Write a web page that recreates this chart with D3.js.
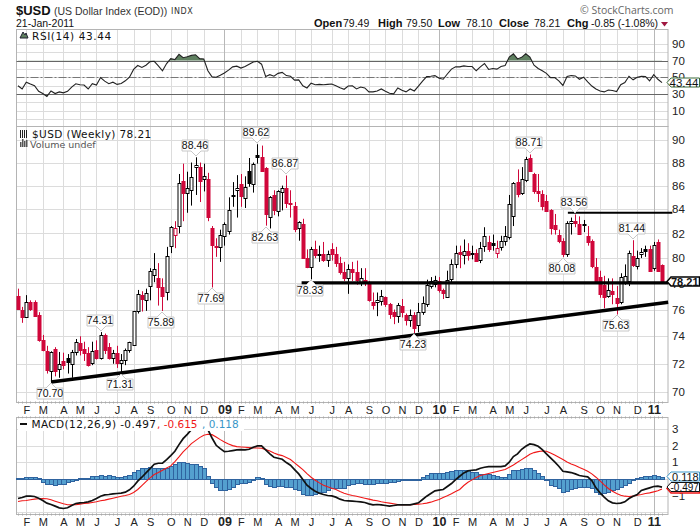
<!DOCTYPE html>
<html>
<head>
<meta charset="utf-8">
<script src="https://cdnjs.cloudflare.com/ajax/libs/d3/7.8.5/d3.min.js"></script>
<style>
  html, body { margin: 0; padding: 0; background: #fff; }
  svg { display: block; }
  text { font-family: "Liberation Sans", Arial, sans-serif; }
</style>
</head>
<body>
<div id="chart"></div>
<script>
// weekly bars, Jan 2008 - 21 Jan 2011
const open = [
  77,76,75.5,76.6,76.6,75.55,73.7,72.9,71.5,73.1,
  71.6,72.2,72.4,72,72.85,73.5,73.1,72.8,72,73,
  72.4,74.1,73.2,72.4,72.75,72.05,72.3,73,73.4,75.9,
  77.1,76.8,77.85,78.6,78.4,77.7,77.4,81,81.8,82.6,
  86.4,85.4,85.6,87.6,87.6,86.5,86.6,82.4,81,80.9,
  81.8,82.2,85.2,85.6,86.1,85,87.3,86.2,88.65,88.5,
  87.5,83.3,85.2,83.8,85.5,85.8,84.5,84.3,82.4,82.8,
  80,79.3,80.7,80.25,80.3,79.9,80.7,80.3,79.6,78.9,
  78.4,79.1,78.9,78,78.3,78.1,76.6,76.6,76.6,76.95,
  76.4,75.8,75.5,76.3,75.6,75.2,75.6,74.8,75.8,76.4,
  77.8,77.95,78.2,77.5,77,78.3,79.5,80.5,80.3,80.6,
  80.35,80.4,79.8,81,81.3,81.2,80.4,80.95,81.4,81.7,
  83.4,86.3,85.4,86.5,88.4,87,85.5,85.3,84.7,83.9,
  82.7,81.9,81.4,80.3,82.9,83.05,82.8,82.75,81.8,81.4,
  79.3,78.5,77.9,77,77.4,76.9,76.55,78.1,78.15,80.2,
  79.4,80.3,80.7,80.75,79.2,81.3,79.49
];
const high = [
  77.6,76.2,77.1,76.7,76.7,75.8,74.1,73.3,72.9,73.2,
  72.85,72.8,72.7,73,73.8,74,73.6,73.2,73.6,73.7,
  74.31,74.2,73.5,73,73.3,72.7,73.1,73.6,75.9,77.5,
  77.4,77.6,79.2,80.4,79.6,78.4,80.9,82.6,83,87,
  87.9,87.2,88,88.46,88,87.9,87.1,82.6,81.6,82.3,
  82.9,85,86.3,86.9,87,86.8,88.4,88,89.62,89.5,
  87.6,85.1,85.6,85.6,86,86.87,85.6,84.6,83,83.2,
  80.7,80.9,81.4,81,81.3,80.6,81.2,80.9,80.1,79.7,
  79.5,79.7,79.8,79.2,79.2,78.2,77.3,77.3,77.5,77,
  76.5,76,76.5,76.8,75.7,76,75.8,76.5,77,78.3,
  78.5,78.6,78.5,77.6,79,79.9,81,81,81.5,81.2,
  81,80.7,81.3,82.5,81.8,81.9,81.4,81.8,82.6,85.2,
  86.3,87.4,87.6,88.5,88.71,87.1,87,85.6,85.2,84,
  83.6,82.3,81.6,83,83.3,83.56,83.4,83.1,82.6,81.5,
  80,79,78.6,78.4,78.4,77.8,78.8,79.5,80.6,81.44,
  80.6,80.8,81,81,81.3,81.5,79.5
];
const low = [
  76,75,75.4,75.9,75.5,73.6,72.9,71.3,70.7,71.1,
  71,71.6,71.3,71,72.6,72.6,72.2,71.8,71.9,72.3,
  72.3,72.7,72.3,72,71.7,71.31,71.9,72.8,73.3,75.7,
  75.85,75.9,76.7,78.1,76.3,75.89,76.7,80.4,80.8,82,
  83,83.7,84.3,85.2,84.6,85.5,83,77.69,80.1,79.7,
  81,81.9,84.2,83.3,84.2,84.1,85.9,85.4,87.9,87.2,
  82.63,82.4,83.5,83.4,83.9,84.1,83.3,82.1,81.4,80,
  79.2,78.33,80,79.7,79.7,79.3,79.8,79.3,78.7,78.2,
  77.2,78.2,77.9,77.8,77.8,76.6,76,75.5,76.3,76.2,
  75.3,74.9,75,75.4,74.8,74.7,74.23,74.3,75.6,76.2,
  77.6,77.7,77.3,76.8,76.9,78,79.2,79.2,79.5,79.8,
  79.9,79.7,79.6,80.5,80.5,80.6,80,80.6,81,81.5,
  82.6,85,85.2,86.3,87.2,85.3,84.6,83.9,83.8,81.9,
  81.9,81.2,80.08,80.1,81.9,82.5,81.9,82.1,81,79.2,
  78,76.9,76.1,76.9,76.4,75.63,76.4,77.9,77.8,79.3,
  79.1,80,80.1,78.9,79,78.9,78.1
];
const close = [
  76,75.5,76.6,76.05,75.55,73.7,73,71.5,72.85,71.5,
  71.95,71.9,72.1,72.85,73.6,73,72.8,71.9,72.9,72.4,
  74.1,73,72.4,72.75,72,72.3,73,73.55,75.9,77.2,
  76.8,77.3,79,79.1,77.7,77,80.2,82.55,82.4,86.2,
  85.4,85.8,86.7,87.8,86.4,86.8,83.4,81,80.9,81.9,
  82.8,83.9,85.1,85.8,85.1,85.9,86.3,87.9,88.5,87.3,
  83.6,85,83.9,85.5,85.8,84.5,84.4,82.4,82.9,80,
  79.3,80.7,80.2,80.3,79.8,80.35,80.3,79.6,78.9,78.4,
  79.1,78.9,78.3,78.4,78.1,76.7,76.4,76.75,77,76.4,
  75.65,75.5,76.35,75.85,75.2,75.55,74.6,75.8,76.5,77.85,
  78.2,78.25,77.5,77.25,78.3,79.5,80.4,80.3,80.6,80.3,
  80.4,79.8,80.8,81.8,80.7,81,80.8,81.4,81.8,84.4,
  86.2,85.3,86.6,88.3,87.3,85.5,85.3,84.3,83.9,82.4,
  82.35,81.4,80.35,82.85,83.05,82.9,82,82.7,81.3,79.4,
  78.1,77.2,77,77.5,77.2,76.55,78.5,78.6,80.4,79.5,
  80,80.45,80.55,79,81.05,79,78.21
];
const rsi = [
  39.8,35.9,44.1,41.8,39.8,33.1,30.4,26.9,33.5,30.4,
  32.4,31.2,33.1,38.2,42.2,41,40.6,35.9,42.2,40.6,
  49.6,45.3,42.2,44.1,41.4,42.5,45.7,50,59.4,64.1,
  61.8,64.5,68.8,69.2,63.7,57.8,66.5,72.4,71.2,77.5,
  73.5,74.7,76.3,77.1,72.4,72,57.8,50.4,50,52.4,
  55.1,58.6,62.5,63.3,61,62.9,65.7,68.4,69.2,65.7,
  50.8,53.1,51.2,54.7,55.9,52,51.2,46.5,46.9,39.8,
  37.1,42.9,41,41.4,41,41.4,41.8,39.8,37.5,35.5,
  39.4,39.8,35.9,38.2,37.1,32.4,32.4,33.5,35.9,33.1,
  30.8,30,37.1,34.3,32.4,35.9,33.5,39.4,45.3,50.8,
  51.2,52,48.8,47.6,53.9,59.8,62.5,62.5,63.7,62.9,
  62.9,57.8,62.5,66.5,59.4,60.6,59.8,62.9,64.1,74.3,
  78.2,72,73.9,78.2,74.3,64.5,60.6,57.8,54.7,49.6,
  49.6,45.7,40.2,50.8,52,51.6,47.6,50,44.5,39.4,
  35.9,33.5,32.4,34.7,34,32.8,41,43.7,51.2,46.9,
  50,51.2,50.8,45.7,53.1,47.6,43.44
];
const macd = [
  -1.18,-1.12,-1.04,-1.04,-1.06,-1.16,-1.3,-1.46,-1.54,-1.64,
  -1.74,-1.78,-1.74,-1.6,-1.48,-1.44,-1.42,-1.38,-1.3,-1.18,
  -1.04,-.96,-.94,-.9,-.88,-.86,-.8,-.66,-.44,-.14,
  .1,.36,.62,.88,.94,.94,1.16,1.4,1.66,2.06,
  2.42,2.68,2.96,3.16,3.2,3.16,2.96,2.46,2.02,1.82,
  1.64,1.66,1.7,1.74,1.76,1.74,1.78,1.9,1.98,1.98,
  1.74,1.5,1.3,1.24,1.18,.98,.82,.56,.3,-.04,
  -.38,-.58,-.74,-.86,-.94,-1,-1.02,-1.1,-1.22,-1.3,
  -1.32,-1.34,-1.36,-1.38,-1.42,-1.5,-1.56,-1.54,-1.56,-1.6,
  -1.64,-1.6,-1.56,-1.56,-1.56,-1.56,-1.5,-1.44,-1.24,-1.04,
  -.88,-.72,-.68,-.64,-.46,-.28,-.04,.16,.36,.48,
  .52,.54,.64,.7,.74,.74,.74,.74,.78,1,
  1.34,1.5,1.78,1.96,2.1,2.06,1.96,1.76,1.5,1.26,
  1.02,.76,.46,.42,.38,.3,.2,.16,.12,-.1,
  -.54,-.84,-1.1,-1.32,-1.44,-1.48,-1.46,-1.38,-1.18,-1.04,
  -.94,-.7,-.62,-.54,-.46,-.44,-.497
];
const signal = [
  -1.36,-1.32,-1.3,-1.26,-1.22,-1.2,-1.18,-1.2,-1.26,-1.34,
  -1.42,-1.5,-1.56,-1.56,-1.56,-1.52,-1.48,-1.46,-1.42,-1.38,
  -1.32,-1.28,-1.22,-1.16,-1.1,-1.04,-1,-.94,-.82,-.64,
  -.4,-.16,.06,.26,.38,.52,.66,.78,1.04,1.32,
  1.62,1.86,2.12,2.3,2.48,2.62,2.68,2.66,2.52,2.36,
  2.22,2.1,2,1.94,1.92,1.9,1.88,1.86,1.86,1.84,
  1.76,1.68,1.56,1.46,1.4,1.28,1.16,.96,.76,.56,
  .32,.1,-.08,-.24,-.38,-.48,-.56,-.64,-.76,-.86,
  -.94,-1,-1.04,-1.1,-1.16,-1.22,-1.28,-1.32,-1.38,-1.42,
  -1.46,-1.5,-1.54,-1.56,-1.56,-1.56,-1.54,-1.52,-1.5,-1.46,
  -1.4,-1.32,-1.24,-1.12,-1.02,-.9,-.76,-.64,-.4,-.2,
  -.06,.08,.2,.26,.32,.38,.44,.5,.56,.7,
  .84,1,1.16,1.32,1.48,1.58,1.64,1.68,1.66,1.56,
  1.44,1.3,1.16,1.02,.9,.8,.68,.58,.46,.3,
  .1,-.12,-.36,-.58,-.74,-.88,-.98,-1.04,-1.06,-1.04,
  -.98,-.94,-.88,-.84,-.78,-.72,-.615
];
const hist = [
  .08,.08,.14,.14,.1,.06,-.16,-.3,-.32,-.34,
  -.32,-.28,-.2,-.12,-.02,.08,.08,.08,.16,.16,
  .26,.2,.22,.18,.12,.14,.2,.22,.4,.56,
  .64,.68,.74,.68,.64,.64,.68,.8,.92,1,
  1.02,.98,.92,.92,.76,.64,.2,-.24,-.5,-.64,
  -.66,-.62,-.5,-.3,-.22,-.22,-.2,-.06,.1,.04,
  -.32,-.4,-.48,-.44,-.44,-.48,-.5,-.6,-.68,-.92,
  -.98,-.96,-.9,-.82,-.8,-.64,-.52,-.52,-.52,-.52,
  -.38,-.32,-.24,-.26,-.28,-.3,-.28,-.26,-.24,-.22,
  -.16,-.16,-.12,-.08,-.04,-.02,.02,.02,.1,.26,
  .36,.38,.38,.36,.4,.48,.56,.56,.56,.56,
  .44,.4,.32,.3,.28,.22,.16,.12,.14,.32,
  .52,.54,.58,.68,.64,.56,.34,.2,0,-.34,
  -.44,-.56,-.76,-.7,-.58,-.52,-.5,-.5,-.48,-.56,
  -.8,-.88,-.84,-.76,-.66,-.58,-.5,-.36,-.24,-.04,
  .08,.12,.2,.16,.26,.2,.118
];

// month grid: bar number and label
const monthWeeks = [2,6,11,15,19,24,28,32,37,41,45,50,54,58,63,67,71,76,80,85,89,93,97,102,106,110,115,119,123,128,132,137,141,145,150,154];
const monthLabels = ["F","M","A","M","J","J","A","S","O","N","D","09","F","M","A","M","J","J","A","S","O","N","D","10","F","M","A","M","J","J","A","S","O","N","D","11"];

const rsiTicks = [90,70,50,30,10];
const rsiGrid = [90,80,70,60,50,40,30,20,10,0];
const priceTicks = [90,88,86,84,82,80,78,76,74,72,70];
const macdTicks = [3,2,1,-1];
const macdGrid = [3,2,1,0,-1,-2];

// high/low callouts
const calloutWeeks = [8,20,25,35,43,47,58,60,65,71,96,124,132,135,145,149];
const calloutSide = ["low","high","low","low","high","low","high","low","high","low","low","high","low","high","low","high"];

// lines drawn on the chart by hand
const supportLine = [{week: 8, price: 70.7}, {week: 157.5, price: 76.55}];
const flatLine = [{week: 68.7, price: 78.05}, {week: 157.5, price: 78.05}];
const topLine = [{week: 133.2, price: 83.7}, {week: 158.5, price: 83.7}];

const width = 700, height = 530;
const left = 16.5, right = 668;
const rsiBox = {top: 29.5, bottom: 126.5};
const priceBox = {top: 126.5, bottom: 402.5};
const macdBox = {top: 417.5, bottom: 514.5};

const RED = "#d0073a", GRID = "#dcdcdc", YEAR = "#b8b8b8", FRAME = "#b4b4b4";
const MONO = '"DejaVu Sans", sans-serif';

const svg = d3.select("#chart").append("svg")
  .attr("width", width).attr("height", height)
  .attr("viewBox", [0, 0, width, height]);

const x = d3.scaleLinear().domain([0, 156]).range([18, 662]);
const yRsi = d3.scaleLinear().domain([90, 10]).range([44, 110.5]);
const yPrice = d3.scaleLog().domain([70, 90]).range([392, 140]);
const yMacd = d3.scaleLinear().domain([3, -1]).range([429, 495.5]);

function drawPanel(box, y, gridVals, tickVals) {
  const g = svg.append("g");
  // horizontal grid
  g.selectAll(".h").data(gridVals).join("line")
    .attr("x1", left).attr("x2", right)
    .attr("y1", d => Math.round(y(d)) + 0.5).attr("y2", d => Math.round(y(d)) + 0.5)
    .attr("stroke", GRID);
  // month grid, year lines are darker
  g.selectAll(".v").data(monthWeeks).join("line")
    .attr("x1", d => Math.round(x(d)) + 0.5).attr("x2", d => Math.round(x(d)) + 0.5)
    .attr("y1", box.top).attr("y2", box.bottom)
    .attr("stroke", (d, i) => monthLabels[i].length > 1 ? YEAR : GRID);
  // frame
  g.append("rect").attr("x", left).attr("y", box.top)
    .attr("width", right - left).attr("height", box.bottom - box.top)
    .attr("fill", "none").attr("stroke", FRAME);
  // labels on the right
  const axis = d3.axisRight(y).tickValues(tickVals).tickSize(0).tickPadding(0).tickFormat(d3.format("d"));
  const ax = svg.append("g").attr("transform", `translate(${right + 4},0)`).call(axis);
  ax.select(".domain").remove();
  ax.selectAll("text").attr("font-size", 11.5).attr("fill", "#222")
    .attr("font-family", '"Liberation Sans", sans-serif');
}

function monthAxis(yPos) {
  const axis = d3.axisBottom(x).tickValues(monthWeeks).tickSize(0).tickPadding(0)
    .tickFormat((d, i) => monthLabels[i]);
  const ax = svg.append("g").attr("transform", `translate(0,${yPos})`).call(axis);
  ax.select(".domain").remove();
  ax.selectAll("text")
    .attr("dy", "0.35em").attr("y", 0)
    .attr("font-size", (d, i) => monthLabels[i].length > 1 ? 12.5 : 11)
    .attr("font-weight", (d, i) => monthLabels[i].length > 1 ? "bold" : "normal")
    .attr("font-family", (d, i) => monthLabels[i] === "09" ? '"Liberation Serif", serif' : '"Liberation Sans", sans-serif')
    .attr("fill", "#222");
}

// ---- RSI ----
drawPanel(rsiBox, yRsi, rsiGrid, rsiTicks);

const rsiPts = rsi.map((v, i) => [i, v]);
const defs = svg.append("defs");
defs.append("clipPath").attr("id", "above70").append("rect")
  .attr("x", left).attr("y", rsiBox.top).attr("width", right - left).attr("height", yRsi(70) - rsiBox.top);
defs.append("clipPath").attr("id", "below30").append("rect")
  .attr("x", left).attr("y", yRsi(30)).attr("width", right - left).attr("height", rsiBox.bottom - yRsi(30));

svg.append("path").datum(rsiPts).attr("clip-path", "url(#above70)").attr("fill", "#5f8060")
  .attr("d", d3.area().x(d => x(d[0])).y0(yRsi(70)).y1(d => yRsi(d[1])));
svg.append("path").datum(rsiPts).attr("clip-path", "url(#below30)").attr("fill", "#5f8060")
  .attr("d", d3.area().x(d => x(d[0])).y0(yRsi(30)).y1(d => yRsi(d[1])));

[70, 30].forEach(v => {
  svg.append("line").attr("x1", left).attr("x2", right)
    .attr("y1", Math.round(yRsi(v)) + 0.5).attr("y2", Math.round(yRsi(v)) + 0.5)
    .attr("stroke", "#666");
});
svg.append("line").attr("x1", left).attr("x2", right)
  .attr("y1", Math.round(yRsi(50)) + 0.5).attr("y2", Math.round(yRsi(50)) + 0.5)
  .attr("stroke", "#777").attr("stroke-dasharray", "8,2,2,2");

svg.append("path").datum(rsiPts).attr("fill", "none").attr("stroke", "#222").attr("stroke-width", 1.1)
  .attr("d", d3.line().x(d => x(d[0])).y(d => yRsi(d[1])));

// ---- price ----
drawPanel(priceBox, yPrice, priceTicks, priceTicks);

const bars = close.map((c, i) => ({
  i, o: open[i], h: high[i], l: low[i], c,
  up: i === 0 ? false : c >= close[i - 1]
}));
const px = d => Math.round(x(d.i)) + 0.5;

const candles = svg.append("g").selectAll("g").data(bars).join("g");
candles.append("line")
  .attr("x1", px).attr("x2", px)
  .attr("y1", d => yPrice(d.h)).attr("y2", d => yPrice(d.l))
  .attr("stroke", d => d.up ? "#000" : RED);
candles.append("rect")
  .attr("x", d => px(d) - 1.5)
  .attr("width", 3)
  .attr("y", d => Math.round(yPrice(Math.max(d.o, d.c))) + 0.5)
  .attr("height", d => Math.max(1, Math.round(Math.abs(yPrice(d.o) - yPrice(d.c)))))
  .attr("fill", d => d.c > d.o ? "#fff" : (d.up ? "#000" : RED))
  .attr("stroke", d => d.up ? "#000" : RED);

// hand drawn lines
const trend = d3.line().x(d => x(d.week)).y(d => yPrice(d.price));
svg.append("path").datum(supportLine).attr("d", trend).attr("stroke", "#000").attr("stroke-width", 3.5).attr("fill", "none");
svg.append("path").datum(flatLine).attr("d", trend).attr("stroke", "#000").attr("stroke-width", 3.4).attr("fill", "none");
svg.append("path").datum(topLine).attr("d", trend).attr("stroke", "#000").attr("stroke-width", 2).attr("fill", "none");

// callouts for the highs and lows
const callouts = svg.append("g").selectAll("g").data(calloutWeeks).join("g")
  .attr("transform", (w, k) => {
    const v = calloutSide[k] === "high" ? high[w] : low[w];
    return `translate(${Math.round(x(w))},${Math.round(yPrice(v))})`;
  });
callouts.append("path")
  .attr("d", (w, k) => {
    const s = calloutSide[k] === "high" ? -1 : 1;
    return `M0,${s}L${-5},${s * 6}L${-14},${s * 6}L${-14},${s * 17}L${12},${s * 17}L${12},${s * 6}L5,${s * 6}Z`;
  })
  .attr("fill", "#fff").attr("stroke", "#c8c8c8");
callouts.append("text")
  .attr("x", -1)
  .attr("y", (w, k) => calloutSide[k] === "high" ? -8 : 15)
  .attr("text-anchor", "middle").attr("font-size", 10.5).attr("fill", "#111")
  .text((w, k) => (calloutSide[k] === "high" ? high[w] : low[w]).toFixed(2));

// ---- MACD ----
drawPanel(macdBox, yMacd, macdGrid, macdTicks);

svg.append("g").attr("shape-rendering", "crispEdges").selectAll("rect").data(hist).join("rect")
  .attr("x", (d, i) => Math.round(x(i) - 2) + 0.5)
  .attr("width", (d, i) => Math.round(x(i + 1) - 2) - Math.round(x(i) - 2))
  .attr("y", d => Math.round(yMacd(Math.max(d, 0))) + 0.5)
  .attr("height", d => Math.max(1, Math.round(Math.abs(yMacd(d) - yMacd(0)))))
  .attr("fill", "#54a0cf").attr("stroke", "#2f639f").attr("stroke-width", 1);

const mline = d3.line().x((d, i) => x(i)).y(d => yMacd(d));
svg.append("path").datum(signal).attr("d", mline).attr("fill", "none").attr("stroke", "#f01818").attr("stroke-width", 1.1);
svg.append("path").datum(macd).attr("d", mline).attr("fill", "none").attr("stroke", "#111").attr("stroke-width", 1.7);

// weekly dots along the frames
[macdBox.top, macdBox.bottom, priceBox.bottom].forEach(y0 => {
  svg.append("g").selectAll("line").data(d3.range(0, 157)).join("line")
    .attr("x1", d => Math.round(x(d)) + 0.5).attr("x2", d => Math.round(x(d)) + 0.5)
    .attr("y1", y0 - 1).attr("y2", y0 + 1)
    .attr("stroke", "#aaa");
});

monthAxis(410);
monthAxis(522);

// ---- legends ----
function label(xp, yp, txt, opts = {}) {
  return svg.append("text").attr("x", xp).attr("y", yp).text(txt)
    .attr("font-size", opts.size || 11)
    .attr("font-weight", opts.weight || "normal")
    .attr("fill", opts.fill || "#111")
    .style("font-family", opts.family || '"Liberation Sans", sans-serif')
    .style("letter-spacing", opts.spacing || null);
}

// header
label(16, 15, "$USD", {size: 13, weight: "bold"});
label(54, 14.5, "(US Dollar Index (EOD))", {size: 10.5, fill: "#333"});
label(171, 14, "INDX", {size: 8, fill: "#333", family: MONO, spacing: "0.6px"});
label(16, 27, "21-Jan-2011", {size: 10.5});
label(580, 14, "\u00a9 StockCharts.com", {size: 10.5, fill: "#666", family: '"Open Sans", sans-serif'});

const quote = [
  [314, "Open", true], [343, "79.49", false],
  [378, "High", true], [406, "79.50", false],
  [438, "Low", true], [466, "78.10", false],
  [499, "Close", true], [534, "78.21", false],
  [567, "Chg", true], [591, "-0.85 (-1.08%)", false]
];
quote.forEach(q => label(q[0], 27, q[1], {size: q[2] ? 11 : 10.5, weight: q[2] ? "bold" : "normal"}));
svg.append("path").attr("d", "M661,22H668L664.5,26.5Z").attr("fill", "#a01840");

// RSI legend
svg.append("path").attr("d", "M20,38L23,32L25,35L26,33L28,38Z").attr("fill", "#5f8060").attr("stroke", "#223");
label(32, 40, "RSI(14) 43.44", {size: 10.5, family: MONO, spacing: "0.6px"});

// price legend
svg.append("g").selectAll("line").data([0, 1, 2, 3]).join("line")
  .attr("x1", d => 20.5 + d * 2).attr("x2", d => 20.5 + d * 2)
  .attr("y1", 130).attr("y2", 138).attr("stroke", "#222");
label(32, 138, "$USD (Weekly) 78.21", {size: 10.5, family: MONO, spacing: "0.4px"});
svg.append("g").selectAll("rect").data([5, 8, 6, 7]).join("rect")
  .attr("x", (d, i) => 20 + i * 2).attr("y", d => 147 - d).attr("width", 1.5).attr("height", d => d)
  .attr("fill", "#555");
label(30, 147.5, "Volume undef", {size: 9.5, family: MONO, fill: "#555"});

// MACD legend, white box hides the line behind it
svg.append("rect").attr("x", 18).attr("y", 418.5).attr("width", 226).attr("height", 12.5).attr("fill", "#fff");
svg.append("line").attr("x1", 20).attr("x2", 27).attr("y1", 424).attr("y2", 424).attr("stroke", "#111").attr("stroke-width", 2);
label(31.5, 428, "MACD(12,26,9) -0.497", {size: 10.5, family: MONO, spacing: "0.4px"});
label(157, 428, ", -0.615", {size: 10.5, family: MONO, fill: "#f01818"});
label(202, 428, ", 0.118", {size: 10.5, family: MONO, fill: "#3a96c8"});

// value flags on the right edge
function flag(yc, txt, stroke, opts = {}) {
  const h = 4.5;
  svg.append("path")
    .attr("d", `M667,${yc}L671,${yc - h}H699.5V${yc + h}H671Z`)
    .attr("fill", "#fff").attr("stroke", stroke).attr("stroke-width", opts.sw || 1);
  if (txt) label(opts.tx || 670.5, yc + 4, txt, {size: opts.size || 11, weight: opts.weight});
}
flag(82.5, "43.44", "#3a6a3a", {size: 11.5, tx: 669.5});
flag(281.5, "78.21", "#000", {weight: "bold", sw: 1.5, size: 11, tx: 671});
flag(476.5, "0.118", "#3a96c8", {tx: 672});
flag(488.5, "", "#f01818", {sw: 1.5});
flag(487, "-0.497", "#111", {size: 10});
</script>
</body>
</html>
